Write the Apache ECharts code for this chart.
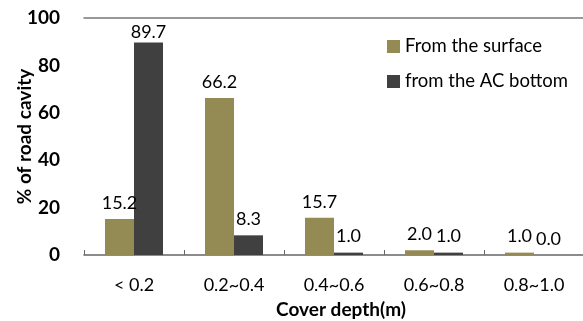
<!DOCTYPE html>
<html><head><meta charset="utf-8">
<script src="https://cdn.jsdelivr.net/npm/echarts@6/dist/echarts.min.js"></script>
<style>html,body{margin:0;padding:0;background:#fff;}#c{width:583px;height:321px;}</style>
</head><body><div id="c"></div>
<script>
var categories = ['< 0.2', '0.2~0.4', '0.4~0.6', '0.6~0.8', '0.8~1.0'];
var surfaceValues = [15.2, 66.2, 15.7, 2.0, 1.0];
var bottomValues = [89.7, 8.3, 1.0, 1.0, 0.0];
var seriesNames = ['From the surface', 'from the AC bottom'];
var yTicks = [0, 20, 40, 60, 80, 100];

var FONT = 'Lato';
var chart = echarts.init(document.getElementById('c'), null, {renderer: 'canvas'});
function labelCfg(d) {
  return {
    show: true, position: 'top', distance: d,
    fontFamily: FONT, fontSize: 18, color: '#000',
    formatter: function (p) { return p.value.toFixed(1); }
  };
}
// labels near the top of the plot are pulled down onto the bar, as in the source
function items(vals) {
  return vals.map(function (v) {
    return v > 85 ? {value: v, label: {distance: 1}} : v;
  });
}
chart.setOption({
  animation: false,
  backgroundColor: '#fff',
  grid: {left: 84, top: 18, width: 500, height: 237, containLabel: false, outerBoundsMode: 'none'},
  legend: {
    orient: 'vertical', left: 382, top: 32,
    itemWidth: 13, itemHeight: 13, itemGap: 16,
    icon: 'rect',
    textStyle: {fontFamily: FONT, fontSize: 18.5, color: '#000'},
    data: seriesNames
  },
  xAxis: [{
    type: 'category', data: categories, position: 'bottom',
    axisLine: {show: true, lineStyle: {color: '#666666', width: 1.5}},
    axisTick: {show: true, inside: true, length: 5, lineStyle: {color: '#666666'}},
    axisLabel: {fontFamily: FONT, fontSize: 18, color: '#000', margin: 21},
    name: 'Cover depth(m)', nameLocation: 'middle', nameGap: 45, nameMoveOverlap: false,
    nameTextStyle: {fontFamily: FONT, fontSize: 19, fontWeight: 'bold', color: '#000', padding: [0, 0, 0, 14]}
  }, {
    type: 'category', data: categories, position: 'top',
    axisLine: {show: true, lineStyle: {color: '#777777', width: 1.5}},
    axisTick: {show: false}, axisLabel: {show: false}
  }],
  yAxis: {
    type: 'value', min: yTicks[0], max: yTicks[yTicks.length - 1], interval: 20,
    axisLine: {show: false}, axisTick: {show: false}, splitLine: {show: false},
    axisLabel: {fontFamily: FONT, fontSize: 19, fontWeight: 'bold', color: '#000', margin: 24},
    name: '% of road cavity', nameLocation: 'middle', nameGap: 50, nameRotate: 90, nameMoveOverlap: false,
    nameTextStyle: {fontFamily: FONT, fontSize: 19, fontWeight: 'bold', color: '#000'}
  },
  series: [{
    name: seriesNames[0], type: 'bar', data: items(surfaceValues),
    barWidth: 29, barGap: '0%',
    itemStyle: {color: '#948A54'}, label: labelCfg(7)
  }, {
    name: seriesNames[1], type: 'bar', data: items(bottomValues),
    barWidth: 29, barGap: '0%',
    itemStyle: {color: '#404040'}, label: labelCfg(7)
  }]
});
</script></body></html>
